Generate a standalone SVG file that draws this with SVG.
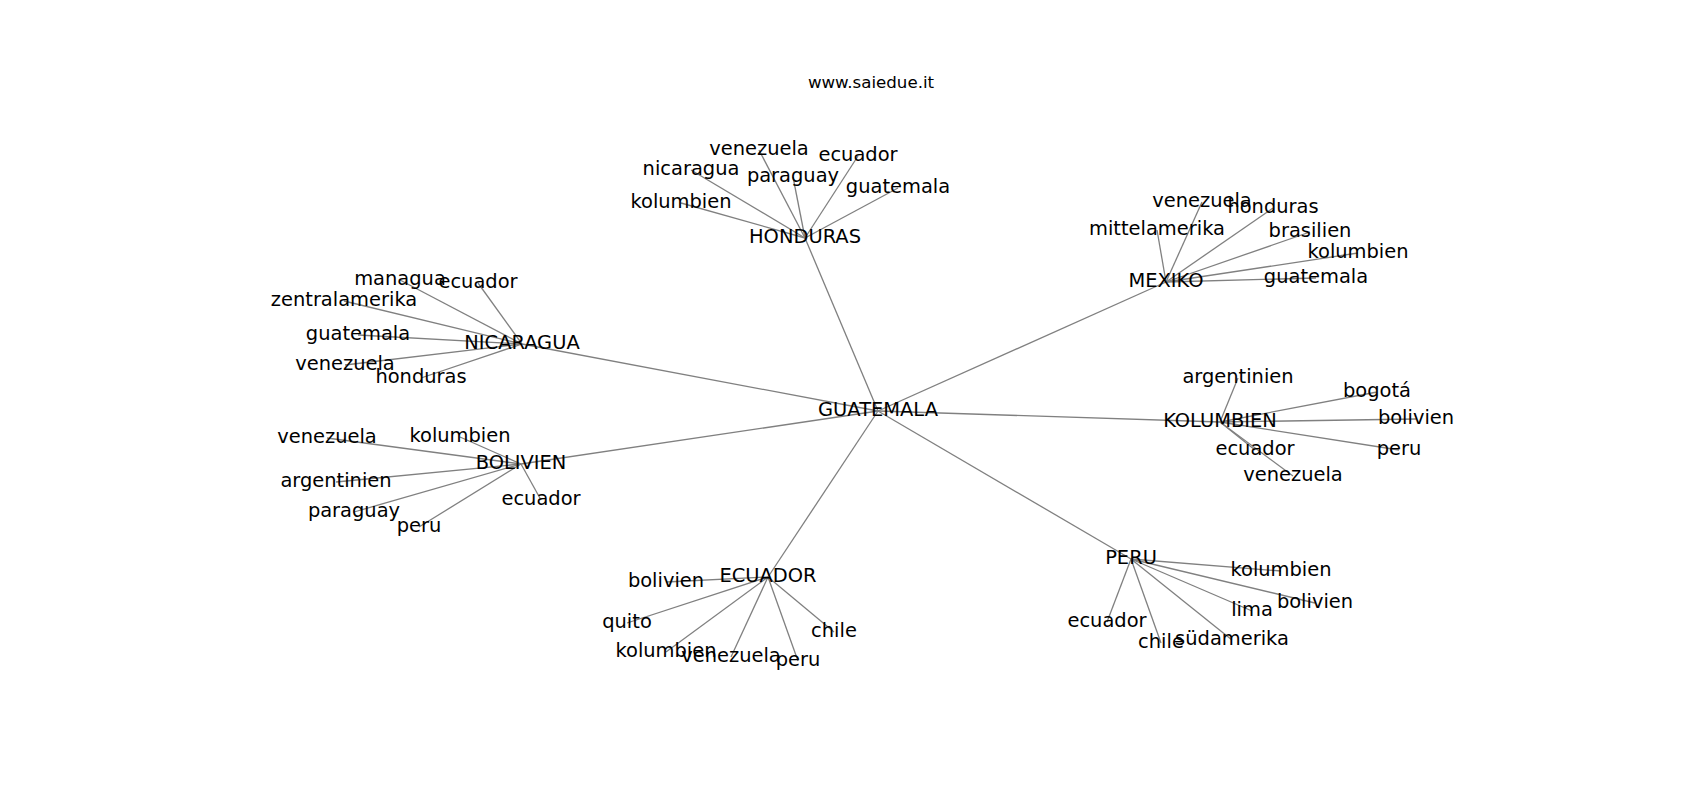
<svg xmlns="http://www.w3.org/2000/svg" width="1700" height="800" viewBox="0 0 1700 800">
<style>
.e line{stroke:#808080;stroke-width:1.3;fill:none}
text{font-family:"DejaVu Sans",sans-serif;font-size:19.44px;fill:#000;text-anchor:middle}
.title{font-size:16.67px}
</style>
<rect width="1700" height="800" fill="#fff"/>
<text class="title" x="871" y="88">www.saiedue.it</text>
<g id="edges" class="e">
<line x1="878" y1="411" x2="805" y2="238"/>
<line x1="878" y1="411" x2="522" y2="344"/>
<line x1="878" y1="411" x2="1166" y2="282"/>
<line x1="878" y1="411" x2="1220" y2="422"/>
<line x1="878" y1="411" x2="521" y2="464"/>
<line x1="878" y1="411" x2="768" y2="577"/>
<line x1="878" y1="411" x2="1131" y2="559"/>
<line x1="805" y1="238" x2="759" y2="150"/>
<line x1="805" y1="238" x2="858" y2="156"/>
<line x1="805" y1="238" x2="691" y2="170"/>
<line x1="805" y1="238" x2="793" y2="177"/>
<line x1="805" y1="238" x2="898" y2="188"/>
<line x1="805" y1="238" x2="681" y2="203"/>
<line x1="522" y1="344" x2="400" y2="280"/>
<line x1="522" y1="344" x2="478" y2="283"/>
<line x1="522" y1="344" x2="344" y2="301"/>
<line x1="522" y1="344" x2="358" y2="335"/>
<line x1="522" y1="344" x2="345" y2="365"/>
<line x1="522" y1="344" x2="421" y2="378"/>
<line x1="521" y1="464" x2="327" y2="438"/>
<line x1="521" y1="464" x2="460" y2="437"/>
<line x1="521" y1="464" x2="336" y2="482"/>
<line x1="521" y1="464" x2="541" y2="500"/>
<line x1="521" y1="464" x2="354" y2="512"/>
<line x1="521" y1="464" x2="419" y2="527"/>
<line x1="1166" y1="282" x2="1202" y2="202"/>
<line x1="1166" y1="282" x2="1273" y2="208"/>
<line x1="1166" y1="282" x2="1157" y2="230"/>
<line x1="1166" y1="282" x2="1310" y2="232"/>
<line x1="1166" y1="282" x2="1358" y2="253"/>
<line x1="1166" y1="282" x2="1316" y2="278"/>
<line x1="1220" y1="422" x2="1238" y2="378"/>
<line x1="1220" y1="422" x2="1377" y2="392"/>
<line x1="1220" y1="422" x2="1416" y2="419"/>
<line x1="1220" y1="422" x2="1255" y2="450"/>
<line x1="1220" y1="422" x2="1399" y2="450"/>
<line x1="1220" y1="422" x2="1293" y2="476"/>
<line x1="768" y1="577" x2="666" y2="582"/>
<line x1="768" y1="577" x2="627" y2="623"/>
<line x1="768" y1="577" x2="834" y2="632"/>
<line x1="768" y1="577" x2="666" y2="652"/>
<line x1="768" y1="577" x2="731" y2="657"/>
<line x1="768" y1="577" x2="798" y2="661"/>
<line x1="1131" y1="559" x2="1281" y2="571"/>
<line x1="1131" y1="559" x2="1315" y2="603"/>
<line x1="1131" y1="559" x2="1252" y2="611"/>
<line x1="1131" y1="559" x2="1107" y2="622"/>
<line x1="1131" y1="559" x2="1232" y2="640"/>
<line x1="1131" y1="559" x2="1161" y2="643"/>
</g>
<g id="guatemala"><text x="878" y="416">GUATEMALA</text></g>
<g id="honduras"><text x="805" y="243">HONDURAS</text></g>
<g id="nicaragua"><text x="522" y="349">NICARAGUA</text></g>
<g id="mexiko"><text x="1166" y="287">MEXIKO</text></g>
<g id="kolumbien"><text x="1220" y="427">KOLUMBIEN</text></g>
<g id="bolivien"><text x="521" y="469">BOLIVIEN</text></g>
<g id="ecuador"><text x="768" y="582">ECUADOR</text></g>
<g id="peru"><text x="1131" y="564">PERU</text></g>
<g id="h-venezuela"><text x="759" y="155">venezuela</text></g>
<g id="h-ecuador"><text x="858" y="161">ecuador</text></g>
<g id="h-nicaragua"><text x="691" y="175">nicaragua</text></g>
<g id="h-paraguay"><text x="793" y="182">paraguay</text></g>
<g id="h-guatemala"><text x="898" y="193">guatemala</text></g>
<g id="h-kolumbien"><text x="681" y="208">kolumbien</text></g>
<g id="n-managua"><text x="400" y="285">managua</text></g>
<g id="n-ecuador"><text x="478" y="288">ecuador</text></g>
<g id="n-zentralamerika"><text x="344" y="306">zentralamerika</text></g>
<g id="n-guatemala"><text x="358" y="340">guatemala</text></g>
<g id="n-venezuela"><text x="345" y="370">venezuela</text></g>
<g id="n-honduras"><text x="421" y="383">honduras</text></g>
<g id="b-venezuela"><text x="327" y="443">venezuela</text></g>
<g id="b-kolumbien"><text x="460" y="442">kolumbien</text></g>
<g id="b-argentinien"><text x="336" y="487">argentinien</text></g>
<g id="b-ecuador"><text x="541" y="505">ecuador</text></g>
<g id="b-paraguay"><text x="354" y="517">paraguay</text></g>
<g id="b-peru"><text x="419" y="532">peru</text></g>
<g id="m-venezuela"><text x="1202" y="207">venezuela</text></g>
<g id="m-honduras"><text x="1273" y="213">honduras</text></g>
<g id="m-mittelamerika"><text x="1157" y="235">mittelamerika</text></g>
<g id="m-brasilien"><text x="1310" y="237">brasilien</text></g>
<g id="m-kolumbien"><text x="1358" y="258">kolumbien</text></g>
<g id="m-guatemala"><text x="1316" y="283">guatemala</text></g>
<g id="k-argentinien"><text x="1238" y="383">argentinien</text></g>
<g id="k-bogota"><text x="1377" y="397">bogotá</text></g>
<g id="k-bolivien"><text x="1416" y="424">bolivien</text></g>
<g id="k-ecuador"><text x="1255" y="455">ecuador</text></g>
<g id="k-peru"><text x="1399" y="455">peru</text></g>
<g id="k-venezuela"><text x="1293" y="481">venezuela</text></g>
<g id="e-bolivien"><text x="666" y="587">bolivien</text></g>
<g id="e-quito"><text x="627" y="628">quito</text></g>
<g id="e-chile"><text x="834" y="637">chile</text></g>
<g id="e-kolumbien"><text x="666" y="657">kolumbien</text></g>
<g id="e-venezuela"><text x="731" y="662">venezuela</text></g>
<g id="e-peru"><text x="798" y="666">peru</text></g>
<g id="p-kolumbien"><text x="1281" y="576">kolumbien</text></g>
<g id="p-bolivien"><text x="1315" y="608">bolivien</text></g>
<g id="p-lima"><text x="1252" y="616">lima</text></g>
<g id="p-ecuador"><text x="1107" y="627">ecuador</text></g>
<g id="p-suedamerika"><text x="1232" y="645">südamerika</text></g>
<g id="p-chile"><text x="1161" y="648">chile</text></g>
</svg>
